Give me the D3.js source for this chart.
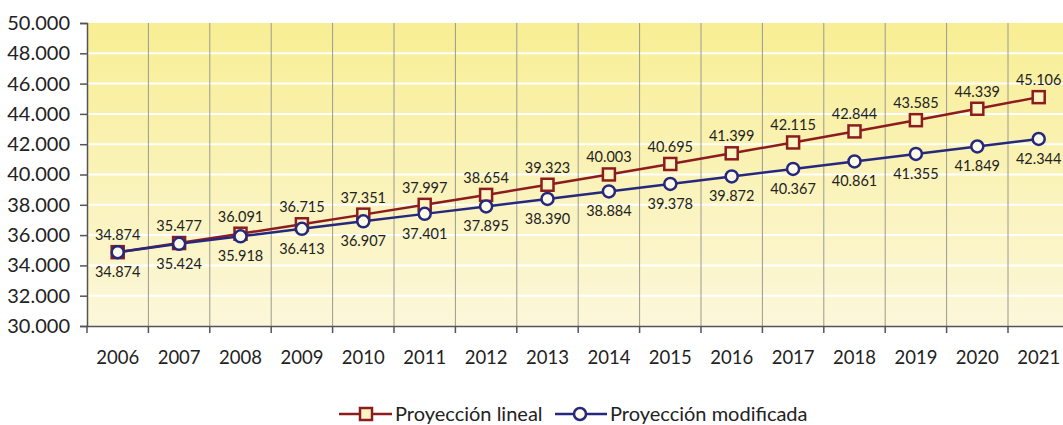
<!DOCTYPE html>
<html>
<head>
<meta charset="utf-8">
<script src="https://cdn.jsdelivr.net/npm/d3@7"></script>
<style>
  body { margin: 0; background: #fff; }
  text { font-family: Lato, "Open Sans", sans-serif; fill: #222; }
</style>
</head>
<body>
<div id="chart"></div>
<script>
// Data
var years = ["2006","2007","2008","2009","2010","2011","2012","2013","2014","2015","2016","2017","2018","2019","2020","2021"];
var lineal = [34874,35477,36091,36715,37351,37997,38654,39323,40003,40695,41399,42115,42844,43585,44339,45106];
var modificada = [34874,35424,35918,36413,36907,37401,37895,38390,38884,39378,39872,40367,40861,41355,41849,42344];
var yTicks = [30000,32000,34000,36000,38000,40000,42000,44000,46000,48000,50000];

var svgWidth = 1063, svgHeight = 425;
var margin = { top: 23, left: 87 };
var plotW = 61.4 * years.length;
var plotH = 303;

var fmt = function (v) { return d3.format(",")(v).replace(/,/g, "."); };

var svg = d3.select("#chart").append("svg")
    .attr("width", svgWidth)
    .attr("height", svgHeight);

var defs = svg.append("defs");
var grad = defs.append("linearGradient").attr("id", "bg")
    .attr("x1", 0).attr("y1", 0).attr("x2", 0).attr("y2", 1);
grad.append("stop").attr("offset", "0%").attr("stop-color", "#f8ee94");
grad.append("stop").attr("offset", "100%").attr("stop-color", "#fcf7da");

var g = svg.append("g").attr("transform", `translate(${margin.left}, ${margin.top})`);

var x = d3.scaleBand().domain(years).range([0, plotW]);
var y = d3.scaleLinear().domain([30000, 50000]).range([plotH, 0]);

g.append("rect").attr("width", plotW).attr("height", plotH).attr("fill", "url(#bg)");

// horizontal white grid
g.selectAll(".hgrid").data(yTicks.slice(1, -1)).enter().append("line")
    .attr("x1", 0).attr("x2", plotW)
    .attr("y1", d => y(d)).attr("y2", d => y(d))
    .attr("stroke", "#fff").attr("stroke-width", 2);

// vertical separators
g.selectAll(".vgrid").data(years.slice(1)).enter().append("line")
    .attr("x1", d => x(d)).attr("x2", d => x(d))
    .attr("y1", 0).attr("y2", plotH)
    .attr("stroke", "#9a9a90").attr("stroke-width", 1);

// y axis
var yAxis = g.append("g").call(d3.axisLeft(y).tickValues(yTicks).tickSize(7).tickFormat(fmt));
yAxis.select(".domain").attr("stroke", "#555").attr("stroke-width", 1.5);
yAxis.selectAll(".tick line").attr("stroke", "#555").attr("stroke-width", 1.5);
yAxis.selectAll("text").attr("font-size", 20).attr("x", -17).attr("fill", "#222");

// x axis
var xAxis = g.append("g").attr("transform", `translate(0, ${plotH})`)
    .call(d3.axisBottom(x).tickSize(0).tickSizeOuter(0));
xAxis.select(".domain").attr("stroke", "#555").attr("stroke-width", 1.5);
xAxis.selectAll("text").attr("font-size", 18.5).attr("dy", "0").attr("y", 38).attr("fill", "#222");
g.selectAll(".xtick").data(years).enter().append("line")
    .attr("x1", d => x(d)).attr("x2", d => x(d))
    .attr("y1", plotH).attr("y2", plotH + 7)
    .attr("stroke", "#555").attr("stroke-width", 1.5);

var cx = function (d, i) { return x(years[i]) + x.bandwidth() / 2; };
var line = d3.line().x((d, i) => cx(d, i)).y(d => y(d));

var red = "#8c1c1e", blue = "#26287e";

g.append("path").datum(lineal).attr("d", line)
    .attr("fill", "none").attr("stroke", red).attr("stroke-width", 2.5);
g.append("path").datum(modificada).attr("d", line)
    .attr("fill", "none").attr("stroke", blue).attr("stroke-width", 2.5);

g.selectAll(".sq").data(lineal).enter().append("rect")
    .attr("x", (d, i) => cx(d, i) - 6).attr("y", d => y(d) - 6)
    .attr("width", 12).attr("height", 12)
    .attr("fill", "#fdf5c4").attr("stroke", red).attr("stroke-width", 2.5);

g.selectAll(".ci").data(modificada).enter().append("circle")
    .attr("cx", (d, i) => cx(d, i)).attr("cy", d => y(d))
    .attr("r", 6)
    .attr("fill", "#fdfbe8").attr("stroke", blue).attr("stroke-width", 2.5);

// value labels
g.selectAll(".lab1").data(lineal).enter().append("text")
    .attr("x", (d, i) => cx(d, i)).attr("y", d => y(d) - 12)
    .attr("text-anchor", "middle").attr("font-size", 14.5)
    .text(fmt);
g.selectAll(".lab2").data(modificada).enter().append("text")
    .attr("x", (d, i) => cx(d, i)).attr("y", d => y(d) + 25)
    .attr("text-anchor", "middle").attr("font-size", 14.5)
    .text(fmt);

// legend
var leg = svg.append("g").attr("transform", "translate(339, 414)");
leg.append("line").attr("x1", 0).attr("x2", 53).attr("stroke", red).attr("stroke-width", 2.5);
leg.append("rect").attr("x", 21).attr("y", -6).attr("width", 12).attr("height", 12)
    .attr("fill", "#fdf5c4").attr("stroke", red).attr("stroke-width", 2.5);
leg.append("text").attr("x", 56).attr("y", 7).attr("font-size", 20).text("Proyección lineal");
leg.append("line").attr("x1", 216).attr("x2", 268).attr("stroke", blue).attr("stroke-width", 2.5);
leg.append("circle").attr("cx", 241).attr("cy", 0).attr("r", 6)
    .attr("fill", "#fdfbe8").attr("stroke", blue).attr("stroke-width", 2.5);
leg.append("text").attr("x", 271).attr("y", 7).attr("font-size", 20).text("Proyección modificada");
</script>
</body>
</html>
